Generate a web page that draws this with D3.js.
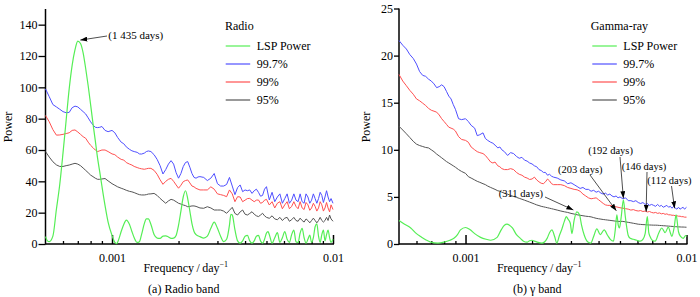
<!DOCTYPE html>
<html><head><meta charset="utf-8">
<script src="https://cdn.jsdelivr.net/npm/d3@7"></script>
<style>
body{margin:0;background:#fff;}
svg{display:block;font-family:"Liberation Serif","Times New Roman",serif;}
</style></head><body>
<svg id="chart" width="700" height="297"></svg>
<script>
// ---------- DATA ----------
const freqGrid = [0.0005,0.00052,0.00054,0.00056,0.00058,0.0006,0.00062,0.00064,0.00066,0.00068,0.0007,0.00072,0.00074,0.00076,0.00078,0.0008,0.00082,0.00084,0.00086,0.00088,0.0009,0.00093,0.00096,
0.001,0.00103,0.00106,0.0011,0.00113,0.00116,0.0012,0.00123,0.00126,0.0013,0.00133,0.00136,0.0014,0.00143,0.00146,
0.0015,0.00155,0.0016,0.00165,0.0017,0.00175,0.0018,0.00185,0.0019,0.00195,0.002,0.00205,0.0021,0.00215,0.0022,0.00225,0.0023,0.00235,0.0024,0.00245,0.0025,
0.0026,0.0027,0.0028,0.0029,0.003,0.0031,0.0032,0.0033,0.0034,0.0035,0.0036,0.0037,0.0038,0.0039,0.004,0.0041,0.0042,0.0043,0.0044,0.0045,0.0046,0.0047,0.0048,0.0049,0.005,
0.00515,0.0053,0.00545,0.0056,0.00575,0.0059,0.00605,0.0062,0.00635,0.0065,0.00665,0.0068,0.00695,0.0071,0.00725,0.0074,0.00755,0.0077,0.00785,0.008,0.00815,0.0083,0.00845,0.0086,0.00875,0.0089,0.00905,0.0092,0.00935,0.0095,0.00965,0.0098,0.01];

const radio997 = [99,94,89,87.5,86,84.5,83.8,84,87,88,87.5,86,84.5,83,80.5,78,76,74.5,74.3,74.5,75,72.5,71.7,
72.5,71,68,65,64,62,60.4,59.5,59,58.5,57.5,57.4,58,59,59.4,
59,57,54,50,44.7,47.5,51,53.2,51,45.5,42,45,49.4,52,52.6,49,45,42.5,42,42.8,43,
42.5,40.5,42,45,38.5,37,37,38,42.5,37,31.5,36,37.7,33.4,34.5,34,34.5,32.3,34,35,33,30.5,31,35,36.6,
28.1,33,27,30,32,26,29,32,26,28,32,28,27,32,27,26,32,30,26,28,32,29,26,29,33,31,26.5,30,34,30,27,29,26];

const radio99 = [82,78,73,69.5,69.6,70,70.5,71,72.5,72.8,71.5,70,68.5,67.5,65,63,61.5,60,59,59.5,60,60,59,
57.5,57,55.5,54,53.6,52,51,50.4,49.5,48.8,48.3,48,47.7,48,48.3,
48.3,47,44.5,41,38.1,40,41.3,41.9,40,37.7,35.6,37.5,39.8,40.5,40.9,39,37,36.5,35.5,35,34.5,
34.5,34.5,36.5,35,32,31.5,31,30.2,34.5,32,27,30.2,30,27,28,29,29.1,28,27,28,28.1,26,26.5,28,28.5,
24.9,27,23,26,27,22.5,25,27,22.5,24,27,24,22.5,27,23,22,26.5,25,21.5,23,26,24,21,23,27,25,21,23,26.5,23,20.5,25,22];

const radio95 = [59,55.5,52.5,50.5,49.5,49.5,50,50.4,51,51.5,51,50,48.5,47,45.5,44,43,42,41.3,41.3,41.5,41.8,40.3,
38.5,37.5,36.5,35.6,35,34.3,33.6,33.3,32.8,32,31.5,31.3,31.3,31.5,31.9,
32,32.3,31,29.1,27.5,26,27.5,28.5,28,27,26,25.5,24.9,24.5,23.8,24,24.3,24.3,24,23.5,23,
22.8,23.8,23,21.7,21.7,21.7,21,19.6,21.5,23.4,19.5,18.5,20.5,21.7,19,18.5,19.5,20.6,19,18,17.5,18.5,19.6,18,17,
16.4,18,16,15.5,17,15,16.5,17,14.5,15.5,17,15,14.5,16.5,15,14,16,15,13.5,15,16.5,15,13.5,15,17,15,14,15,17,15,18.5,16,14.5];

const radioLspFreq = [0.0005,0.00051,0.00052,0.00054,0.00056,0.00058,0.0006,0.00062,0.00064,0.00066,0.00068,0.0007,0.00072,0.00074,0.00076,0.00078,0.0008,0.00082,0.00084,0.00086,0.00088,0.0009,0.00093,0.00096,
0.001,0.00103,0.00105,0.00107,0.0011,0.00113,0.00116,0.0012,0.00123,0.00126,0.0013,0.00133,0.00136,0.0014,0.00143,0.00146,
0.0015,0.00155,0.0016,0.00165,0.0017,0.00175,0.0018,0.00185,0.0019,0.00195,0.002,0.00205,0.0021,0.00215,0.0022,0.00225,0.0023,0.00235,0.0024,
0.0025,0.0026,0.0027,0.0028,0.0029,0.003,0.0031,0.0032,0.0033,0.0034,0.00345,0.0035,0.0036,0.0037,0.0038,0.0039,0.004,0.0041,0.0042,0.0043,0.0044,0.0045,0.0046,0.0047,0.0048,0.0049,
0.005,0.00508,0.00515,0.0053,0.00545,0.0056,0.00575,0.0059,0.00605,0.0062,0.00635,0.0065,0.00665,0.0068,0.00695,0.0071,0.00725,0.0074,0.00755,0.0077,0.00785,0.008,0.00815,0.0083,0.00845,0.0086,0.00875,0.0089,0.00905,0.0092,0.00935,0.0095,0.00965,0.0098,0.01];
const radioLsp = [4.7,2,1.5,5,22,38,58,79,99,114,124,129.5,128,122,112,101,89,77,66,55,46,37,24.5,14,
5.5,1,0.3,2.5,8,12.5,15.3,12.5,8,4,1,1.5,6,13,16,16,
12.5,6,3.8,3.6,5,5.2,4.5,3.6,3.8,5.5,12,21,30,34,29,21,13,8,6,
4.7,3.8,5,10,14,10,5,1.5,3,12,19,18.5,9,2,0.5,2,5,5.5,2,0.5,2,5,5.5,2,0.5,3,
7,7.9,6,0.5,4,7.2,1,4,7.9,3,1,6,8.9,1.5,1,7,10,4,0.5,3,5.7,1,4,11,12.8,5,1,6,8.9,2,6,8.9,4,1,3];

const gamma997 = [21.6,21.1,20.7,20.1,19.7,19.1,18.3,17.9,17.8,17.5,17.3,17,16.6,16.7,16.9,16.7,16.2,15.7,15.4,14.8,14.3,13.3,13.2,
13.3,13,12.6,12.3,11.5,11.6,11.8,11.2,11,10.8,10.7,10.5,10.2,10.3,10,
9.8,9.4,9.7,9.6,9.3,9.1,9.2,8.9,8.8,8.6,8.5,8.3,8.2,7.9,7.8,7.6,7.6,7.3,7.4,7.2,7.1,
7,6.8,6.7,6.4,6.5,6.3,6.1,5.9,6,5.8,5.8,5.6,5.7,5.5,5.6,5.4,5.3,5.4,5.2,5.3,5.1,5,5.1,4.9,5,
4.8,4.9,4.6,4.6,4.5,4.6,4.4,4.3,4.4,4.2,4.3,4.1,4.2,4.1,4,4.2,4,4.1,3.9,4,4.1,3.9,4,3.8,4,3.8,3.7,3.9,3.7,3.8,3.9,3.7,3.9];

const gamma99 = [18,17.3,16.8,16.3,15.9,15.4,15.2,14.95,14.7,14.4,14.2,14.1,14,13.7,13.3,13,12.7,12.4,12.3,12.2,12,11.4,11.1,
11,10.8,10.3,10,9.8,9.7,9.6,9.4,9.1,8.7,8.6,8.7,8.3,8.2,8,
7.9,7.9,8,7.9,7.6,7.4,7.3,7.1,7,6.85,6.9,7.1,6.8,6.6,6.45,6.4,6.6,6.9,6.7,6.4,6.3,
6.3,6.3,6.2,6,5.9,5.8,5.75,5.6,5.3,5.1,4.9,4.8,4.85,4.9,4.7,4.5,4.3,4.15,4.1,4.1,4.05,4,3.95,3.9,3.85,
3.8,3.75,3.7,3.6,3.65,3.55,3.5,3.55,3.45,3.5,3.4,3.45,3.35,3.3,3.35,3.25,3.3,3.2,3.25,3.15,3.2,3.1,3.1,3.05,3.05,3,3,2.95,2.95,2.9,2.9,2.85,2.85];

const gamma95 = [12.5,12.1,11.7,11.3,10.9,10.6,10.45,10.35,10.25,10.2,10,9.8,9.55,9.35,9.15,8.95,8.75,8.6,8.45,8.3,8.15,7.9,7.7,
7.5,7.15,7,6.8,6.65,6.55,6.4,6.3,6.15,6,5.9,5.8,5.65,5.6,5.5,
5.4,5.3,5.15,5.05,4.95,4.85,4.75,4.65,4.55,4.45,4.35,4.25,4.15,4.08,4,3.95,3.9,3.85,3.8,3.75,3.7,
3.6,3.5,3.42,3.35,3.25,3.18,3.1,3.05,3,2.95,2.92,2.88,2.8,2.73,2.68,2.64,2.6,2.57,2.54,2.51,2.48,2.45,2.42,2.4,2.4,
2.4,2.35,2.3,2.25,2.2,2.15,2.1,2.08,2.06,2.05,2.03,2.02,2.01,2,2,1.99,1.97,1.96,1.94,1.93,1.91,1.9,1.88,1.87,1.85,1.84,1.83,1.82,1.81,1.8,1.8,1.79,1.78];

const gammaLspFreq = [0.0005,0.00053,0.000565,0.0006,0.000626,0.00066,0.000695,0.00075,0.000798,0.00085,0.000886,0.00092,0.000949,
0.001,0.00105,0.0011,0.00117,0.00124,0.0013,0.00139,0.00145,0.0015,0.00154,0.00158,0.00163,0.0017,0.00177,0.00183,0.0019,0.00195,
0.002,0.00205,0.00211,0.00222,0.00234,0.0024,0.00246,0.00253,0.00259,0.00266,0.00273,0.0028,0.00286,0.0029,0.00298,
0.00303,0.0031,0.00319,0.00328,0.00335,0.00345,0.00358,0.00369,0.0038,0.00393,0.00407,0.00424,0.0044,0.00452,0.00467,0.00476,0.00484,0.00491,0.00497,
0.00506,0.00518,0.00528,0.00537,0.00545,0.00556,0.00575,0.00596,0.00617,0.00635,0.0065,0.00665,0.00675,0.00684,0.007,0.00721,0.0075,0.00773,
0.008,0.00828,0.00845,0.00858,0.0088,0.00897,0.0092,0.0094,0.00967,0.0099,0.01];
const gammaLsp = [2.5,2.1,1.7,1.1,0.8,0.45,0.2,0.1,0.2,0.4,0.6,1.0,1.5,
1.75,1.5,1.1,0.7,0.5,0.4,0.7,1.5,2.0,2.1,2.0,1.7,1.0,0.6,0.3,0.2,0.35,
0.4,0.3,0.2,0.1,0.6,1.2,1.5,0.8,0.1,0.9,1.6,2.4,2.9,2.7,2.2,
1.1,2.5,3.4,3.1,2.0,0.9,0.2,0.1,0.8,1.6,1.0,1.5,0.9,0.5,0.3,1.5,3.1,2.0,1.7,
2.8,4.7,3.0,1.7,0.9,0.6,0.5,0.4,0.3,0.5,1.1,2.9,1.2,0.8,0.4,0.3,1.2,1.7,
1.2,1.8,1.2,0.8,1.8,3.1,1.3,0.8,0.6,0.9,0.8];

const radioTicks = [0,20,40,60,80,100,120,140];
const gammaTicks = [0,5,10,15,20,25];
const xMajorTicks = [0.001, 0.01];
const xTickLabels = ["0.001", "0.01"];
const xMinorTicks = [0.0006,0.0007,0.0008,0.0009,0.002,0.003,0.004,0.005,0.006,0.007,0.008,0.009];
const seriesLabels = ["LSP Power", "99.7%", "99%", "95%"];

const radioPeakLabels = ["(1 435 days)"];
const radioPeakFreq = [0.0007];
const radioPeakPower = [129.5];
const gammaPeakLabels = ["(311 days)", "(203 days)", "(192 days)", "(146 days)", "(112 days)"];
const gammaPeakFreq = [0.00319, 0.00484, 0.00518, 0.00665, 0.00897];
const gammaPeakPower = [3.4, 3.1, 4.7, 2.9, 3.1];

// ---------- DRAWING ----------
const svg = d3.select("#chart");
svg.append("rect").attr("width",700).attr("height",297).attr("fill","#fff");
const COL = {lsp:"#55ee55", p997:"#4f4fff", p99:"#ff5050", p95:"#555555"};
const FONT = '"Liberation Serif","Times New Roman",serif';

const defs = svg.append("defs");
defs.append("marker").attr("id","arrow").attr("viewBox","0 0 7 5")
  .attr("refX",7).attr("refY",2.5).attr("markerWidth",7).attr("markerHeight",5)
  .attr("markerUnits","userSpaceOnUse").attr("orient","auto")
  .append("path").attr("d","M0,0 L7,2.5 L0,5 Z").attr("fill","#000");

function drawPanel(cfg) {
  const x = d3.scaleLog().domain([0.0005, 0.01]).range([cfg.x0, cfg.x1]);
  const y = d3.scaleLinear().domain([0, cfg.yMax]).range([244, cfg.yTop]);
  const g = svg.append("g");

  // Y axis
  const ya = g.append("g").attr("transform",`translate(${cfg.x0},0)`)
    .call(d3.axisLeft(y).tickValues(cfg.yTicks).tickSize(cfg.yTickSize).tickPadding(1).tickSizeOuter(0));
  ya.select(".domain").remove();
  ya.selectAll("line").attr("stroke","#000").attr("stroke-width",1.3);
  ya.selectAll("text").attr("font-family",FONT).attr("font-size",12).attr("fill","#000");
  g.append("line").attr("x1",cfg.x0).attr("x2",cfg.x0).attr("y1",y(cfg.yMax)).attr("y2",244.5)
    .attr("stroke","#000").attr("stroke-width",1.5);

  // X axis
  const xa = g.append("g").attr("transform","translate(0,244)")
    .call(d3.axisBottom(x).tickValues(xMajorTicks).tickSize(-9).tickPadding(9).tickSizeOuter(0)
      .tickFormat((d,i)=>xTickLabels[i]));
  xa.select(".domain").remove();
  xa.selectAll("line").attr("stroke","#000").attr("stroke-width",1.5);
  xa.selectAll("text").attr("font-family",FONT).attr("font-size",12).attr("fill","#000");
  const xm = g.append("g").attr("transform","translate(0,244)")
    .call(d3.axisBottom(x).tickValues(xMinorTicks).tickSize(-3).tickFormat(""));
  xm.select(".domain").remove();
  xm.selectAll("line").attr("stroke","#000").attr("stroke-width",1.3);
  g.append("line").attr("x1",cfg.x0).attr("x2",cfg.x1+1).attr("y1",244).attr("y2",244)
    .attr("stroke","#000").attr("stroke-width",1.6);

  // Curves
  const lineT = d3.line().x(d=>x(d[0])).y(d=>y(d[1])).curve(d3.curveLinear);
  const lineL = d3.line().x(d=>x(d[0])).y(d=>y(d[1])).curve(d3.curveMonotoneX);
  const zip = (f,v)=>f.map((fr,i)=>[fr,v[i]]);
  [[cfg.p95,COL.p95],[cfg.p99,COL.p99],[cfg.p997,COL.p997]].forEach(([vals,c])=>{
    g.append("path").attr("d",lineT(zip(freqGrid,vals))).attr("fill","none")
      .attr("stroke",c).attr("stroke-width",1).attr("stroke-linejoin","round");
  });
  g.append("path").attr("d",lineL(zip(cfg.lspF,cfg.lsp))).attr("fill","none")
    .attr("stroke",COL.lsp).attr("stroke-width",1.2);

  // Legend
  const lg = g.append("g");
  lg.append("text").attr("x",cfg.lgTitleX).attr("y",30).attr("font-size",12).attr("font-family",FONT).text(cfg.title);
  const cols = [COL.lsp, COL.p997, COL.p99, COL.p95];
  seriesLabels.forEach((lab,i)=>{
    const yy = 46 + 18*i;
    lg.append("line").attr("x1",cfg.lgLineX).attr("x2",cfg.lgLineX+24.5).attr("y1",yy).attr("y2",yy)
      .attr("stroke",cols[i]).attr("stroke-width",1.2);
    lg.append("text").attr("x",cfg.lgLineX+31).attr("y",yy+4).attr("font-size",12).attr("font-family",FONT).text(lab);
  });

  // Axis titles
  g.append("text").attr("transform",`translate(${cfg.powerX},127) rotate(-90)`).attr("text-anchor","middle")
    .attr("font-size",12).attr("font-family",FONT).text("Power");
  const mid = (cfg.x0+cfg.x1)/2 - 3.5;
  const ft = g.append("text").attr("x",mid).attr("y",272).attr("text-anchor","middle")
    .attr("font-size",12).attr("font-family",FONT);
  ft.append("tspan").text("Frequency\u2009/\u2009day");
  ft.append("tspan").attr("dy",-5).attr("font-size",8).text("\u22121");
  g.append("text").attr("x",mid-2).attr("y",293).attr("text-anchor","middle")
    .attr("font-size",12).attr("font-family",FONT).text(cfg.caption);

  // Annotations
  cfg.peaks.forEach((p,i)=>{
    const tx = x(p.f)+p.tip[0], ty = y(p.v)+p.tip[1];
    g.append("line").attr("x1",p.from[0]).attr("y1",p.from[1]).attr("x2",tx).attr("y2",ty)
      .attr("stroke","#222").attr("stroke-width",0.8).attr("marker-end","url(#arrow)");
    g.append("text").attr("x",p.text[0]).attr("y",p.text[1]).attr("text-anchor",p.anchor||"start")
      .attr("font-size",p.fs).attr("font-family",FONT).text(p.label);
  });
}

drawPanel({
  x0:45.5, x1:333, yMax:150, yTop:9, yTicks:radioTicks, yTickSize:7,
  p997:radio997, p99:radio99, p95:radio95, lspF:radioLspFreq, lsp:radioLsp,
  title:"Radio", lgTitleX:225, lgLineX:225.7, powerX:11.5, caption:"(a) Radio band",
  peaks: radioPeakLabels.map((l,i)=>({label:l, f:radioPeakFreq[i], v:radioPeakPower[i],
    tip:[2.5,-1], from:[107,36], text:[108.3,38.5], fs:11}))
});

const gammaLayout = [
  {tip:[-3.5,-2], from:[545,197], text:[543,197], anchor:"end"},
  {tip:[-0.5,-4], from:[590,175], text:[558,172.5]},
  {tip:[0,-1.5], from:[620,157], text:[588.3,154]},
  {tip:[-1.2,-5], from:[647,172], text:[621.7,169.5]},
  {tip:[-1.5,-6.5], from:[671.5,186], text:[647.3,183.5]}
];
drawPanel({
  x0:399, x1:686.5, yMax:25, yTop:8.5, yTicks:gammaTicks, yTickSize:5,
  p997:gamma997, p99:gamma99, p95:gamma95, lspF:gammaLspFreq, lsp:gammaLsp,
  title:"Gamma-ray", lgTitleX:590.7, lgLineX:592.3, powerX:370, caption:"(b) \u03b3 band",
  peaks: gammaPeakLabels.map((l,i)=>Object.assign({label:l, f:gammaPeakFreq[i], v:gammaPeakPower[i], fs:10.5}, gammaLayout[i]))
});
</script>
</body></html>
